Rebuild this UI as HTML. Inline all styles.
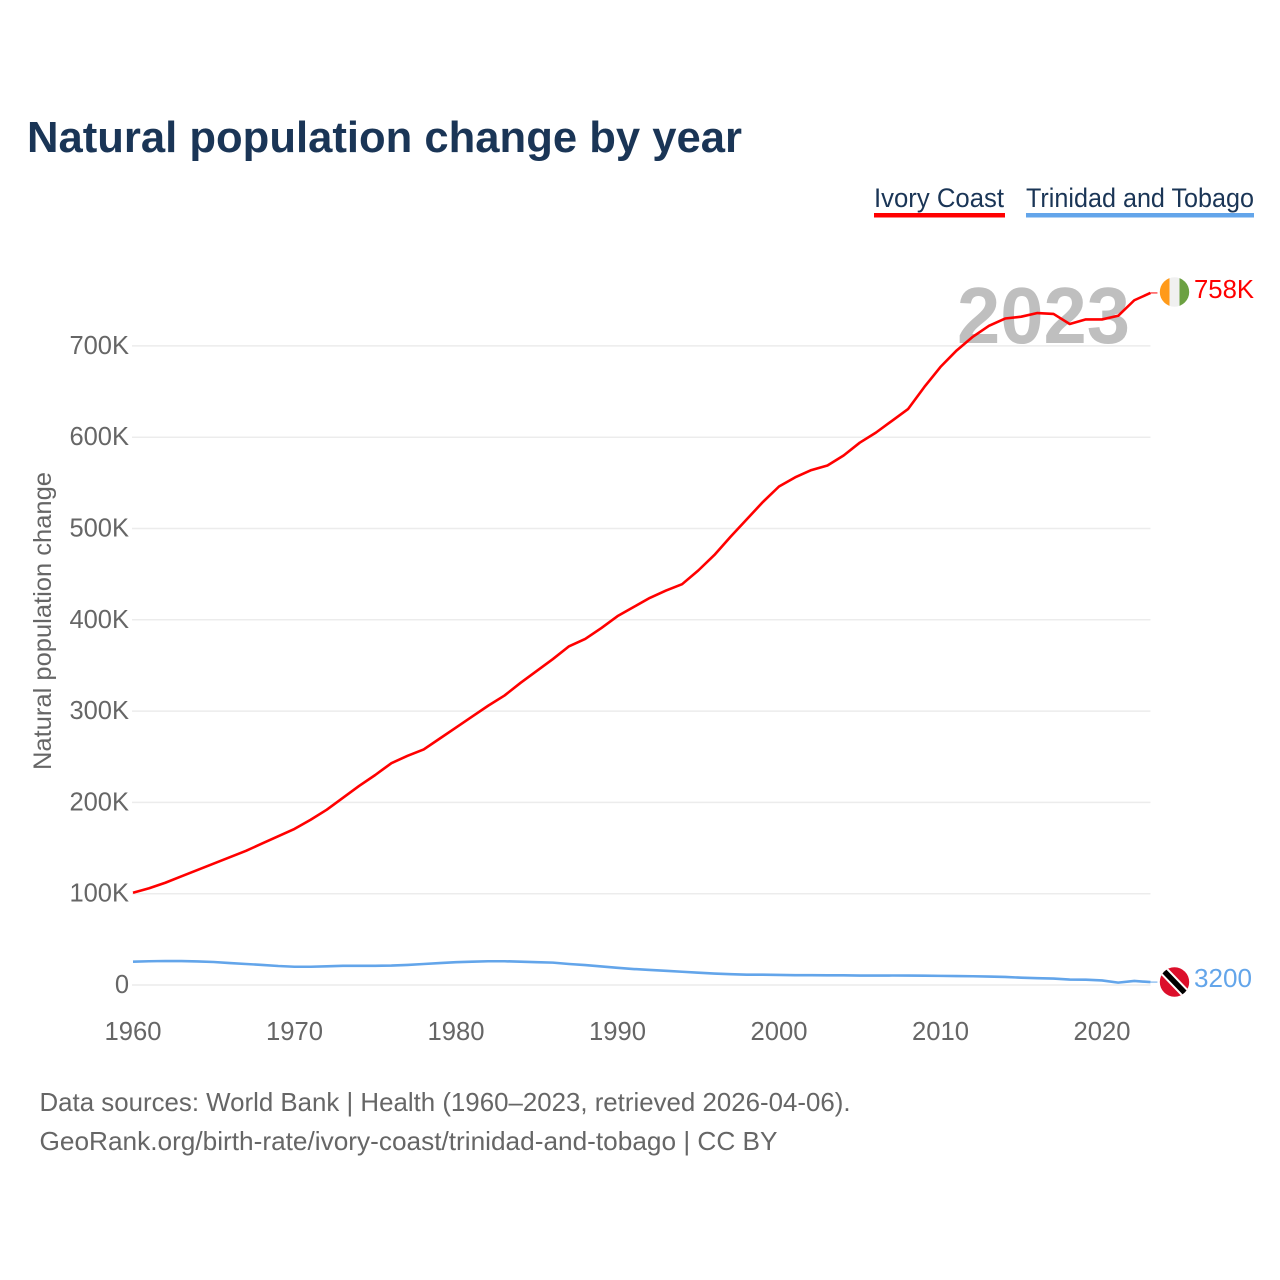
<!DOCTYPE html>
<html lang="en">
<head>
<meta charset="utf-8">
<title>Natural population change by year</title>
<style>
html,body{margin:0;padding:0;background:#fff;width:1280px;height:1280px;overflow:hidden}
svg{display:block}
text{font-family:"Liberation Sans",sans-serif}
.tick{font-size:25.5px;fill:#666}
</style>
</head>
<body>
<svg id="chart" width="1280" height="1280" viewBox="0 0 1280 1280" xmlns="http://www.w3.org/2000/svg">
  <text x="27" y="152" font-size="44" font-weight="700" fill="#1a3556" textLength="715" lengthAdjust="spacingAndGlyphs">Natural population change by year</text>

  <g>
    <text x="874" y="207" font-size="27" fill="#1a3556" textLength="130" lengthAdjust="spacingAndGlyphs">Ivory Coast</text>
    <rect x="874" y="213" width="131" height="4.5" fill="#ff0000"/>
  </g>
  <g>
    <text x="1026" y="207" font-size="27" fill="#1a3556" textLength="228" lengthAdjust="spacingAndGlyphs">Trinidad and Tobago</text>
    <rect x="1026" y="213" width="228" height="4.5" fill="#63a5ea"/>
  </g>

  <g id="grid"></g>
  <g id="y-ticks"></g>
  <g id="x-ticks"></g>

  <text transform="translate(51,770) rotate(-90)" font-size="25" fill="#666" textLength="298" lengthAdjust="spacingAndGlyphs">Natural population change</text>

  <text x="957" y="343" font-size="80" font-weight="700" fill="#bfbfbf" textLength="173" lengthAdjust="spacingAndGlyphs">2023</text>

  <g id="series"></g>

  <g id="flag-ci">
    <defs>
      <clipPath id="clip-ci"><circle cx="1174.5" cy="292" r="14.7"/></clipPath>
      <clipPath id="clip-tt"><circle cx="1174.5" cy="982" r="14.7"/></clipPath>
    </defs>
    <g clip-path="url(#clip-ci)">
      <rect x="1159" y="277" width="10.5" height="30" fill="#ff9a1a"/>
      <rect x="1169.5" y="277" width="10" height="30" fill="#f0f0f0"/>
      <rect x="1179.5" y="277" width="11" height="30" fill="#6ca142"/>
    </g>
  </g>
  <g id="flag-tt">
    <g clip-path="url(#clip-tt)">
      <rect x="1159" y="967" width="31" height="31" fill="#dc0f2b"/>
      <line x1="1161" y1="968" x2="1188" y2="996" stroke="#fff" stroke-width="9.5"/>
      <line x1="1161" y1="968" x2="1188" y2="996" stroke="#000" stroke-width="5.5"/>
    </g>
  </g>

  <text id="label-ci" x="1194" y="298" font-size="25.5" fill="#ff0000" textLength="60" lengthAdjust="spacingAndGlyphs">758K</text>
  <text id="label-tt" x="1194" y="987" font-size="25.5" fill="#63a5ea" textLength="58" lengthAdjust="spacingAndGlyphs">3200</text>

  <text x="39.5" y="1111" font-size="26" fill="#666" textLength="811" lengthAdjust="spacingAndGlyphs">Data sources: World Bank | Health (1960–2023, retrieved 2026-04-06).</text>
  <text x="39.5" y="1150" font-size="26" fill="#666" textLength="738" lengthAdjust="spacingAndGlyphs">GeoRank.org/birth-rate/ivory-coast/trinidad-and-tobago | CC BY</text>
</svg>
<script>
const firstYear = 1960;
const yTickValues = [0, 100, 200, 300, 400, 500, 600, 700];
const yTickLabels = ['0', '100K', '200K', '300K', '400K', '500K', '600K', '700K'];
const xTickYears = [1960, 1970, 1980, 1990, 2000, 2010, 2020];
const ivoryCoast = [101,106,112,119,126,133,140,147,155,163,171,181,192,205,218,230,243,251,258,270,282,294,306,317,331,344,357,371,379,391,404,414,424,432,439,454,471,491,510,529,546,556,564,569,580,594,605,618,631,655,677,695,710,722,730,732,736,735,724,729,729,733,750,758];
const trinidad = [25.5,26,26.3,26.2,25.8,25.2,24,23,22,20.8,20,20,20.5,21,21,21,21.3,22,23,24,25,25.5,26,26,25.5,25,24.5,23,21.8,20.3,18.8,17.5,16.5,15.5,14.5,13.5,12.5,11.8,11.3,11.3,11,10.8,10.8,10.6,10.6,10.3,10.3,10.4,10.3,10.2,10,9.8,9.6,9.2,8.8,8,7.5,7,6,5.8,5,2.6,4.4,3.2];

const svgNS = 'http://www.w3.org/2000/svg';
function xScale(year) { return 133 + (year - 1960) * 16.15; }
function yScale(value) { return 985 - value * 0.913; }

const gridGroup = document.getElementById('grid');
const yGroup = document.getElementById('y-ticks');
yTickValues.forEach(function (v, i) {
  const line = document.createElementNS(svgNS, 'line');
  
  
  line.setAttribute('x1', 132);
  line.setAttribute('x2', xScale(2023));
  line.setAttribute('y1', yScale(v));
  line.setAttribute('y2', yScale(v));
  line.setAttribute('stroke', '#ececec');
  line.setAttribute('stroke-width', '1.5');
  gridGroup.appendChild(line);
  const t = document.createElementNS(svgNS, 'text');
  
  
  t.setAttribute('class', 'tick');
  t.setAttribute('x', 129);
  t.setAttribute('y', yScale(v) + 8);
  t.setAttribute('text-anchor', 'end');
  t.textContent = yTickLabels[i];
  yGroup.appendChild(t);
});

const xGroup = document.getElementById('x-ticks');
xTickYears.forEach(function (yr) {
  const t = document.createElementNS(svgNS, 'text');
  
  
  t.setAttribute('class', 'tick');
  t.setAttribute('x', xScale(yr));
  t.setAttribute('y', 1040);
  t.setAttribute('text-anchor', 'middle');
  t.setAttribute('textLength', '57');
  t.setAttribute('lengthAdjust', 'spacingAndGlyphs');
  t.textContent = String(yr);
  xGroup.appendChild(t);
});

function drawSeries(values, color, name) {
  const group = document.getElementById('series');
  const pts = values.map(function (v, i) { return xScale(firstYear + i).toFixed(2) + ',' + yScale(v).toFixed(2); });
  const path = document.createElementNS(svgNS, 'polyline');
  
  
  path.setAttribute('points', pts.join(' '));
  path.setAttribute('fill', 'none');
  path.setAttribute('stroke', color);
  path.setAttribute('stroke-width', '2.6');
  path.setAttribute('stroke-linejoin', 'round');
  group.appendChild(path);
  const lastY = yScale(values[values.length - 1]);
  const lastX = xScale(firstYear + values.length - 1);
  const conn = document.createElementNS(svgNS, 'line');
  
  
  conn.setAttribute('x1', lastX);
  conn.setAttribute('x2', lastX + 7);
  conn.setAttribute('y1', lastY);
  conn.setAttribute('y2', lastY);
  conn.setAttribute('stroke', color);
  conn.setAttribute('stroke-width', '1');
  group.appendChild(conn);
}
drawSeries(trinidad, '#63a5ea', 'line-trinidad-and-tobago');
drawSeries(ivoryCoast, '#ff0000', 'line-ivory-coast');
</script>
</body>
</html>
